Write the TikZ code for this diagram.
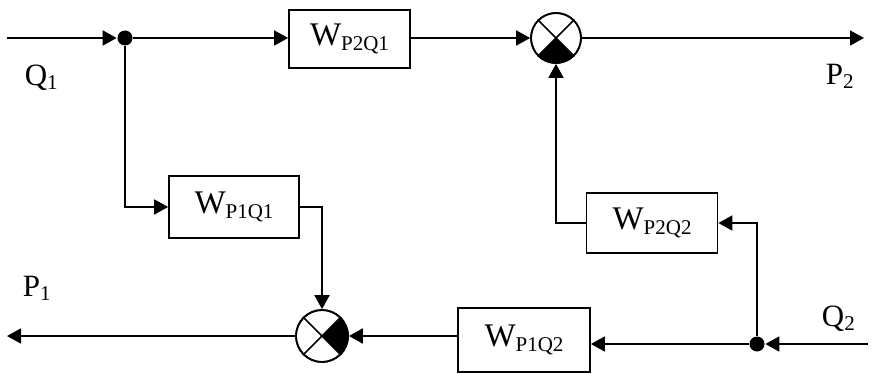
\documentclass[tikz,border=0pt]{standalone}
\usepackage{fontspec}
\setmainfont{Liberation Serif}
\usetikzlibrary{arrows.meta,calc}
\newcommand{\WW}[1]{{\fontsize{33}{33}\selectfont W}\raisebox{-5pt}{\fontsize{21}{21}\selectfont #1}}
\newcommand{\LL}[2]{{\fontsize{31}{31}\selectfont #1}\raisebox{-4pt}{\fontsize{21}{21}\selectfont #2}}
\begin{document}
\begin{tikzpicture}[x=1pt,y=-1pt,line width=1.7pt,
  blk/.style={draw,rectangle,inner sep=0pt,line width=1.7pt},
  sumr/.style={draw,circle,inner sep=0pt,line width=1.7pt},
  jdot/.style={fill,circle,inner sep=0pt,minimum size=15pt},
  lbl/.style={inner sep=0pt},
  arr/.style={-{Triangle[length=14pt,width=15pt]}}]
\useasboundingbox (0,0) rectangle (874,374);
% blocks
\node[blk,minimum width=121pt,minimum height=58pt] (b1) at (349.5,39) {\WW{P2Q1}};
\node[blk,minimum width=130pt,minimum height=62pt] (b2) at (234,207) {\WW{P1Q1}};
\node[blk,minimum width=131pt,minimum height=60pt] (b3) at (652,223) {\WW{P2Q2}};
\node[blk,minimum width=132pt,minimum height=64pt] (b4) at (524,340) {\WW{P1Q2}};
% summers
\node[sumr,minimum size=50pt] (s1) at (556,38) {};
\node[sumr,minimum size=52pt] (s2) at (322,336) {};
\fill (s1.center) -- (s1.-135) arc[start angle=225,end angle=315,radius=25pt] -- cycle;
\draw (s1.north west) -- (s1.south east) (s1.north east) -- (s1.south west);
\fill (s2.center) -- (s2.-45) arc[start angle=-45,end angle=45,radius=26pt] -- cycle;
\draw (s2.north west) -- (s2.south east) (s2.north east) -- (s2.south west);
\node[sumr,minimum size=50pt] at (s1.center) {};
\node[sumr,minimum size=52pt] at (s2.center) {};
% junction dots
\node[jdot] (d1) at (125,38) {};
\node[jdot] (d2) at (757,344) {};
% terminals
\coordinate (in1) at (7,38);
\coordinate (out2) at (864,38);
\coordinate (out1) at (7,336);
\coordinate (in2) at (868,344);
% labels
\node[lbl,anchor=base west] (q1) at (24,86) {\LL{Q}{1}};
\node[lbl,anchor=base west] (p2) at (825,85) {\LL{P}{2}};
\node[lbl,anchor=base west] (p1) at (22,296) {\LL{P}{1}};
\node[lbl,anchor=base west] (q2) at (821,326) {\LL{Q}{2}};
% connectors
\draw[arr] (in1) -- (d1.west);
\draw[arr] (d1) -- (d1 -| b1.west);
\draw[arr] (b1.east |- s1.west) -- (s1.west);
\draw[arr] (s1.east) -- (out2);
\draw[arr] (d1) |- (b2.west);
\draw[arr] (b2.east) -| (s2.north);
\draw[arr] (s2.west) -- (out1);
\draw[arr] (in2) -- (d2.east);
\draw[arr] (d2) -- (d2 -| b4.east);
\draw[arr] (s2.east -| b4.west) -- (s2.east);
\draw[arr] (d2) |- (b3.east);
\draw[arr] (b3.west) -| (s1.south);
\end{tikzpicture}
\end{document}
